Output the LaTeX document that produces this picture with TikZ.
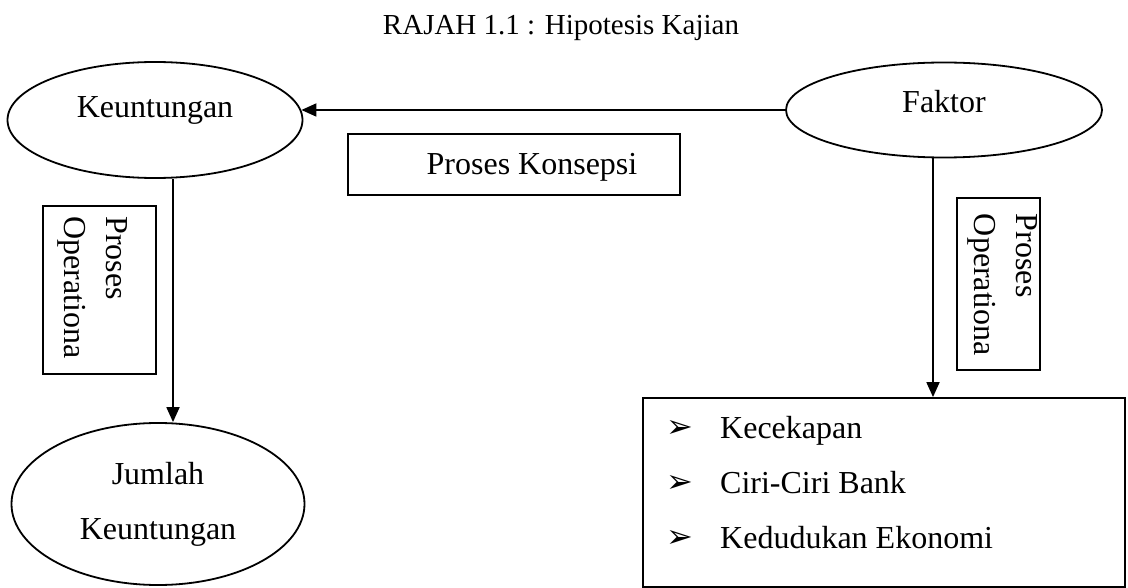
\documentclass[tikz,border=0pt]{standalone}
\usepackage{fontspec}
\setmainfont{Liberation Serif}
\newfontfamily\simbol{DejaVu Sans}
\usetikzlibrary{shapes.geometric,arrows.meta}

\begin{document}
\begin{tikzpicture}[x=1pt,y=-1pt,
    teks/.style={inner sep=0pt,font=\fontsize{32}{42}\selectfont},
    bujur/.style={draw,ellipse,line width=1.8pt,teks},
    kotak/.style={draw,line width=1.8pt,inner sep=0pt},
    tanda/.style={anchor=base west,inner sep=0pt,font=\simbol\fontsize{32}{32}\selectfont},
    panah/.style={-{Triangle[length=15pt,width=13pt]},line width=1.8pt}]
  \useasboundingbox (0,0) rectangle (1128,588);

  \node[anchor=base,font=\fontsize{29}{35}\selectfont] (tajuk) at (561,35) {RAJAH 1.1 : Hipotesis Kajian};

  \node[bujur,minimum width=295,minimum height=116,text height=22pt,text depth=26pt] (untung) at (155,120) {Keuntungan};
  \node[bujur,minimum width=316,minimum height=95,text height=22pt,text depth=16pt] (faktor) at (944,110) {Faktor};
  \node[bujur,minimum width=293,minimum height=162,align=center,font=\fontsize{32}{55}\selectfont] (jumlah) at (158,504) {Jumlah\\Keuntungan};

  \node[kotak,minimum width=332,minimum height=61] (konsep) at (514,164.5) {};
  \node[teks,anchor=base] (konsepteks) at (532,175) {Proses Konsepsi};

  % proses operationa
  \node[kotak,minimum width=113,minimum height=168] (opkiri) at (99.5,290) {};
  \node[teks,rotate=-90,align=left] (opkiriteks) at (93,287.5) {Proses\\Operationa};
  \node[kotak,minimum width=83,minimum height=172] (opkanan) at (998.5,284) {};
  \node[teks,rotate=-90,align=left] (opkananteks) at (1003,285) {Proses\\Operationa};

  % senarai faktor
  \node[tanda] (b1) at (666,437) {➢};
  \node[tanda] (b2) at (666,492) {➢};
  \node[tanda] (b3) at (666,547) {➢};
  \node[kotak,minimum width=482,minimum height=189] (senarai) at (884,492.5) {};
  \node[teks,anchor=base west] (s1) at (720,438) {Kecekapan};
  \node[teks,anchor=base west] (s2) at (720,493) {Ciri-Ciri Bank};
  \node[teks,anchor=base west] (s3) at (720,548) {Kedudukan Ekonomi};

  \draw[panah] (faktor.west) -- ([xshift=-2pt]faktor.west -| untung.east);
  \draw[panah] ([xshift=18pt]untung.south) -- ([xshift=15pt]jumlah.north);
  \draw[panah] ([xshift=-11pt]faktor.south) -- ([xshift=-11pt]faktor.south |- senarai.north);
\end{tikzpicture}
\end{document}
